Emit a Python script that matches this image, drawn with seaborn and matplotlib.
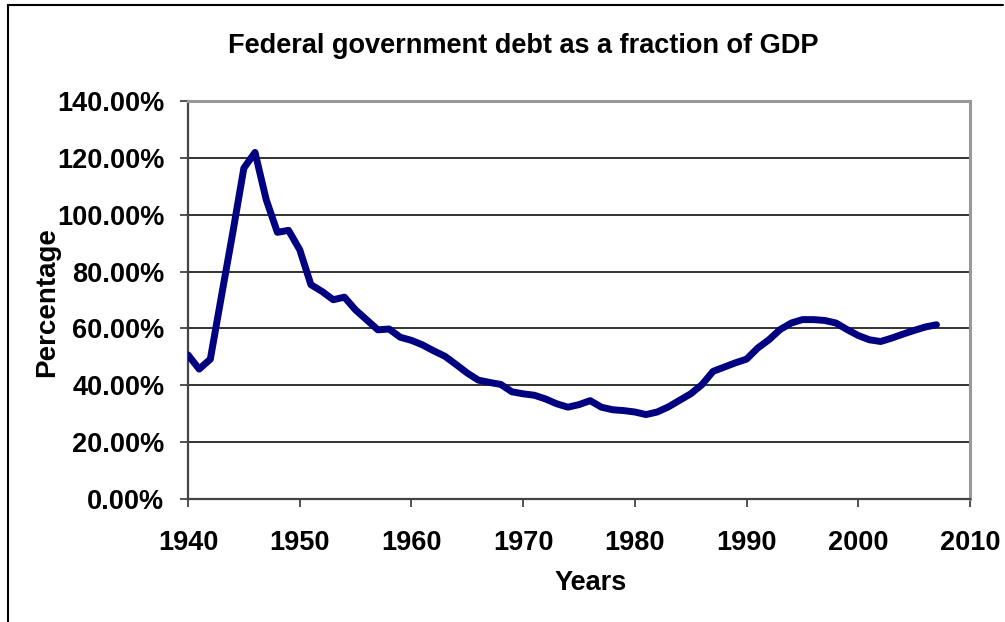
import matplotlib
matplotlib.use("Agg")
import matplotlib.pyplot as plt
import matplotlib.ticker as mticker
from matplotlib.lines import Line2D
import seaborn as sns
import pandas as pd

years = list(range(1940, 2008))
debt_pct = [
    50.7, 45.7, 49.2, 71.5, 93.5, 116.4, 121.9, 105.3, 93.8, 94.5,
    87.7, 75.4, 73.0, 70.1, 71.0, 66.5, 63.0, 59.5, 59.8, 56.9,
    55.8, 54.2, 52.1, 50.2, 47.3, 44.3, 41.8, 41.0, 40.3, 37.7,
    37.0, 36.5, 35.2, 33.5, 32.3, 33.2, 34.6, 32.3, 31.4, 31.1,
    30.6, 29.7, 30.6, 32.4, 34.7, 37.0, 40.2, 44.9, 46.4, 47.9,
    49.2, 53.1, 56.0, 59.6, 61.9, 63.1, 63.1, 62.8, 61.9, 59.6,
    57.5, 56.0, 55.4, 56.6, 58.0, 59.3, 60.5, 61.3,
]
x_ticks = [1940, 1950, 1960, 1970, 1980, 1990, 2000, 2010]
y_ticks = [0, 20, 40, 60, 80, 100, 120, 140]

df = pd.DataFrame({"Years": years, "Percentage": debt_pct})

sns.set_style("white")
plt.rcParams["font.family"] = ["Liberation Sans", "DejaVu Sans"]
plt.rcParams["text.color"] = "black"
plt.rcParams["axes.labelcolor"] = "black"

fig = plt.figure(figsize=(10.05, 6.22), dpi=100)
ax = fig.add_axes([188/1005, 1 - 499/622, (970 - 188)/1005, (499 - 101)/622])

sns.lineplot(data=df, x="Years", y="Percentage", ax=ax, color="#000080",
             linewidth=5, solid_joinstyle="round", solid_capstyle="round", zorder=3)

ax.set_xlim(1940, 2010)
ax.set_ylim(0, 140)
ax.set_xticks(x_ticks)
ax.set_yticks(y_ticks)
ax.yaxis.set_major_formatter(mticker.FuncFormatter(lambda v, p: f"{v:.2f}%"))
ax.grid(axis="y", color="#222222", linewidth=1.3, zorder=1)
ax.grid(axis="x", visible=False)

for lab in ax.get_xticklabels() + ax.get_yticklabels():
    lab.set_fontweight("bold")
    lab.set_fontsize(19.5)
ax.tick_params(axis="both", which="major", direction="out", length=6,
               width=1.3, color="#444444", labelcolor="black")
ax.tick_params(axis="y", pad=11)
ax.tick_params(axis="x", pad=16)
ax.tick_params(left=True, bottom=True)

for side in ["left", "bottom"]:
    ax.spines[side].set_color("#444444")
    ax.spines[side].set_linewidth(1.6)
for side in ["top", "right"]:
    ax.spines[side].set_color("#999999")
    ax.spines[side].set_linewidth(2.2)

ax.set_xlabel("Years", fontsize=19.5, fontweight="bold", color="black")
ax.set_ylabel("Percentage", fontsize=20, fontweight="bold", color="black")
ax.xaxis.set_label_coords((591 - 188) / 782, (499 - 583) / 398)
ax.xaxis.label.set_va("center")
ax.yaxis.set_label_coords((47 - 188) / 782, (499 - 302) / 398)
ax.yaxis.label.set_va("center")

fig.text(523/1005, 1 - 46/622, "Federal government debt as a fraction of GDP",
         ha="center", va="center", fontsize=19.5, fontweight="bold", color="black")

# outer chart frame (left and top visible)
fig.add_artist(Line2D([8/1005, 8/1005], [0, 1 - 5/622], transform=fig.transFigure,
                      color="black", linewidth=1.5))
fig.add_artist(Line2D([8/1005, 1003/1005], [1 - 5/622, 1 - 5/622], transform=fig.transFigure,
                      color="black", linewidth=1.5))

fig.savefig("out.png", dpi=100)
